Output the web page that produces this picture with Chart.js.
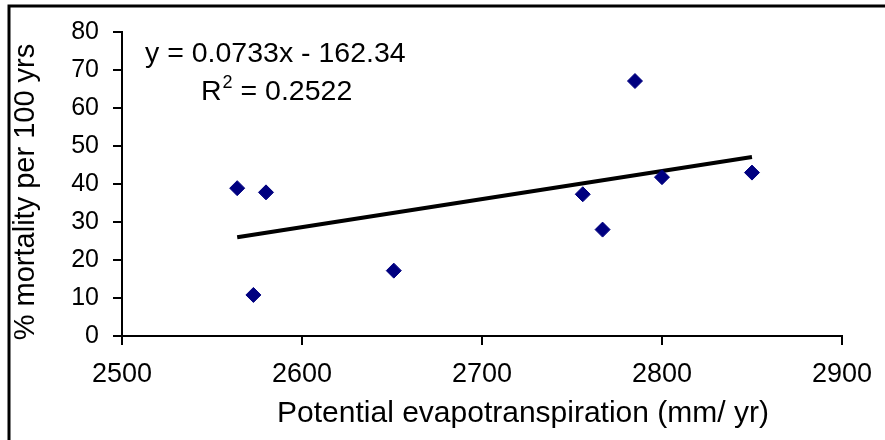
<!DOCTYPE html>
<html>
<head>
<meta charset="utf-8">
<script src="https://cdn.jsdelivr.net/npm/chart.js@4"></script>
<style>
  html, body { margin: 0; padding: 0; background: #fff; }
  canvas { display: block; }
</style>
</head>
<body>
<canvas id="chart" width="885" height="440"></canvas>
<script>
// potential evapotranspiration (mm/yr) vs % mortality per 100 yrs
const petValues = [2564, 2580, 2573, 2651, 2756, 2767, 2785, 2800, 2850];
const mortalityValues = [38.9, 37.8, 10.8, 17.2, 37.3, 28.0, 67.1, 41.8, 43.0];

// linear trend line end points
const trendX = [2564, 2850];
const trendY = [26.0, 47.1];

const xTicks = [2500, 2600, 2700, 2800, 2900];
const yTicks = [0, 10, 20, 30, 40, 50, 60, 70, 80];

const xTitle = "Potential evapotranspiration (mm/ yr)";
const yTitle = "% mortality per 100 yrs";
const equationLabel = "y = 0.0733x - 162.34";
const rSquaredLabel = "0.2522";

const FONT = "'Liberation Sans', Arial, sans-serif";

const points = petValues.map((x, i) => ({ x: x, y: mortalityValues[i] }));
const trend = trendX.map((x, i) => ({ x: x, y: trendY[i] }));

const ctx = document.getElementById("chart").getContext("2d");

const chart = new Chart(ctx, {
  type: "scatter",
  data: {
    datasets: [
      {
        label: "mortality",
        data: points,
        pointStyle: "rectRot",
        pointRadius: 7.5,
        backgroundColor: "#000080",
        borderColor: "#000080",
        borderWidth: 1,
      },
      {
        label: "trend",
        type: "line",
        data: trend,
        borderColor: "#000000",
        borderWidth: 4,
        pointRadius: 0,
        fill: false,
      },
    ],
  },
  options: {
    responsive: false,
    animation: false,
    layout: {
      padding: { left: 0, top: 32, right: 41, bottom: 0 },
    },
    plugins: {
      legend: { display: false },
      tooltip: { enabled: false },
    },
    scales: {
      x: {
        type: "linear",
        min: xTicks[0],
        max: xTicks[xTicks.length - 1],
        afterBuildTicks(scale) {
          scale.ticks = xTicks.map((v) => ({ value: v }));
        },
        afterFit(scale) {
          scale.height = 104;
        },
        border: { color: "#000", width: 2 },
        grid: {
          drawOnChartArea: false,
          drawTicks: true,
          tickLength: 9,
          color: "#000",
          lineWidth: 2,
        },
        ticks: {
          color: "#000",
          padding: 13,
          maxRotation: 0,
          font: { family: FONT, size: 27 },
          callback: (v) => String(v),
        },
      },
      y: {
        type: "linear",
        min: yTicks[0],
        max: yTicks[yTicks.length - 1],
        afterBuildTicks(scale) {
          scale.ticks = yTicks.map((v) => ({ value: v }));
        },
        afterFit(scale) {
          scale.width = 122;
        },
        border: { color: "#000", width: 2 },
        grid: {
          drawOnChartArea: false,
          drawTicks: true,
          tickLength: 9,
          color: "#000",
          lineWidth: 2,
        },
        ticks: {
          color: "#000",
          padding: 14,
          font: { family: FONT, size: 25 },
          callback: (v) => String(v),
        },
      },
    },
  },
  plugins: [
    {
      id: "frameTitlesEquation",
      afterDraw(chart) {
        const c = chart.ctx;
        c.save();
        // outer frame, only left and top edges visible
        c.strokeStyle = "#000";
        c.lineWidth = 3;
        c.strokeRect(9, 6, 1000, 1000);

        c.fillStyle = "#000";
        c.textBaseline = "alphabetic";

        // axis titles
        c.textAlign = "center";
        c.font = "30px " + FONT;
        c.fillText(xTitle, 523, 422);
        c.save();
        c.translate(34, 192);
        c.rotate(-Math.PI / 2);
        c.font = "29px " + FONT;
        c.fillText(yTitle, 0, 0);
        c.restore();

        // regression equation
        c.textAlign = "left";
        c.font = "28.5px " + FONT;
        c.fillText(equationLabel, 145, 62);
        c.fillText("R", 201, 100);
        const rw = c.measureText("R").width;
        c.font = "18px " + FONT;
        c.fillText("2", 201 + rw + 1, 88);
        const sw = c.measureText("2").width;
        c.font = "28.5px " + FONT;
        c.fillText(" = " + rSquaredLabel, 201 + rw + sw + 1, 100);
        c.restore();
      },
    },
  ],
});
</script>
</body>
</html>
